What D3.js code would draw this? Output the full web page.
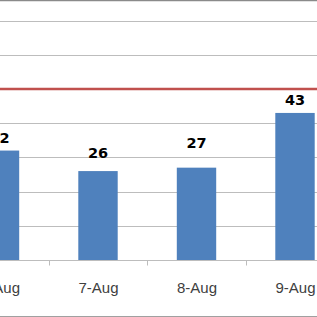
<!DOCTYPE html>
<html>
<head>
<meta charset="utf-8">
<script src="https://cdn.jsdelivr.net/npm/d3@7"></script>
<style>
  html, body { margin: 0; padding: 0; background: #ffffff; overflow: hidden; }
  svg { display: block; }
</style>
</head>
<body>
<script>
// ---- data ----
const categories = ["6-Aug", "7-Aug", "8-Aug", "9-Aug"];
const values = [32, 26, 27, 43];
const gridTicks = [10, 20, 30, 40, 50, 60, 70];
const targetValue = 50;

// ---- layout constants ----
const W = 317, H = 317;
const labelGaps = [8, 13, 20, 8];   // pixel gap between bar top and label baseline

const svg = d3.select("body").append("svg")
  .attr("width", W).attr("height", H);

svg.append("rect").attr("width", W).attr("height", H).attr("fill", "#ffffff");

const x = d3.scaleBand()
  .domain(categories)
  .range([-49.75, 344.25])
  .padding(0);

const y = d3.scaleLinear()
  .domain([0, 70])
  .range([260, 20.6]);

const barW = x.bandwidth() * 0.4;

// top border (cropped chart frame)
svg.append("line")
  .attr("x1", 0).attr("x2", W)
  .attr("y1", 0.5).attr("y2", 0.5)
  .attr("stroke", "#8a8a8a").attr("stroke-width", 1.6);

// gridlines
svg.append("g").selectAll("line")
  .data(gridTicks)
  .join("line")
  .attr("x1", 0).attr("x2", W)
  .attr("y1", d => Math.round(y(d)) + 0.5)
  .attr("y2", d => Math.round(y(d)) + 0.5)
  .attr("stroke", "#bdbdbd").attr("stroke-width", 1);

// bars
svg.append("g").selectAll("rect")
  .data(values)
  .join("rect")
  .attr("x", (d, i) => x(categories[i]) + x.bandwidth() / 2 - barW / 2)
  .attr("y", d => y(d))
  .attr("width", barW)
  .attr("height", d => y(0) - y(d))
  .attr("fill", "#4f81bd");

// target line
svg.append("line")
  .attr("x1", 0).attr("x2", W)
  .attr("y1", y(targetValue)).attr("y2", y(targetValue))
  .attr("stroke", "#c0504d").attr("stroke-width", 2.6);

// x axis
const xAxis = d3.axisBottom(x).tickSize(0).tickPadding(0).tickFormat(() => "");
const ax = svg.append("g").attr("transform", `translate(0,${Math.round(y(0)) + 0.5})`);
ax.append("line").attr("x1", 0).attr("x2", W).attr("y1", 0).attr("y2", 0)
  .attr("stroke", "#bdbdbd").attr("stroke-width", 1);
// tick marks at category boundaries
ax.selectAll("line.tk")
  .data(categories.slice(1))
  .join("line")
  .attr("class", "tk")
  .attr("x1", d => Math.round(x(d)) + 0.5)
  .attr("x2", d => Math.round(x(d)) + 0.5)
  .attr("y1", 0).attr("y2", 5)
  .attr("stroke", "#bdbdbd").attr("stroke-width", 1);

// category labels
svg.append("g").selectAll("text")
  .data(categories)
  .join("text")
  .attr("x", d => x(d) + x.bandwidth() / 2 + 0.5)
  .attr("y", 293.3)
  .attr("text-anchor", "middle")
  .attr("font-family", "Liberation Sans, Arial, sans-serif")
  .attr("font-size", "15px")
  .attr("fill", "#404040")
  .text(d => d);

// value labels
svg.append("g").selectAll("text")
  .data(values)
  .join("text")
  .attr("x", (d, i) => x(categories[i]) + x.bandwidth() / 2)
  .attr("y", (d, i) => y(d) - labelGaps[i])
  .attr("text-anchor", "middle")
  .attr("font-family", "DejaVu Sans, sans-serif")
  .attr("font-weight", "bold")
  .attr("font-size", "14.5px")
  .attr("fill", "#000000")
  .text(d => d);

// bottom border (cropped chart frame)
svg.append("line")
  .attr("x1", 0).attr("x2", W)
  .attr("y1", 316.5).attr("y2", 316.5)
  .attr("stroke", "#a0a0a0").attr("stroke-width", 1);
</script>
</body>
</html>
